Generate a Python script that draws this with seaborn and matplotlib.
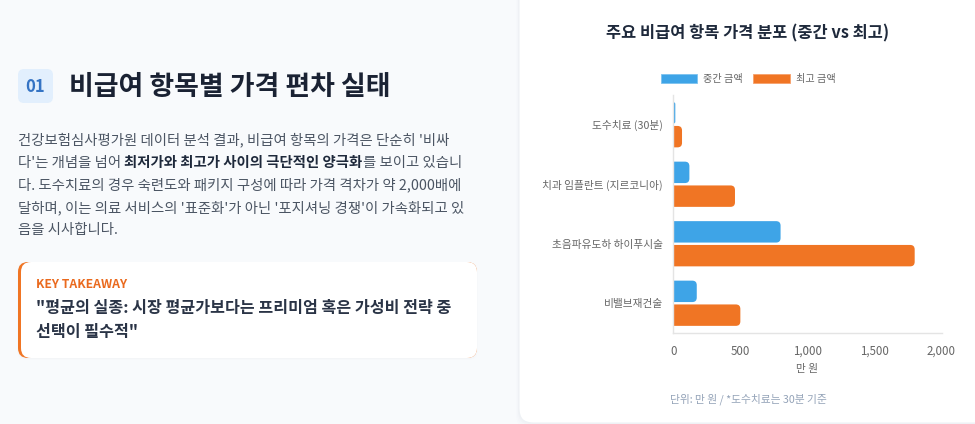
import matplotlib
matplotlib.use("Agg")
import matplotlib.pyplot as plt
from matplotlib.patches import FancyBboxPatch, Patch
import seaborn as sns
import pandas as pd

# ---------------- data ----------------
items = ["도수치료 (30분)", "치과 임플란트 (지르코니아)", "초음파유도하 하이푸시술", "비밸브재건술"]
median_price = [15, 120, 800, 175]
max_price = [65, 460, 1800, 500]
series_names = ["중간 금액", "최고 금액"]
x_ticks = [0, 500, 1000, 1500, 2000]

chart_title = "주요 비급여 항목 가격 분포 (중간 vs 최고)"
x_label = "만 원"
footnote = "단위: 만 원 / *도수치료는 30분 기준"

section_no = "01"
section_title = "비급여 항목별 가격 편차 실태"
para_lines = [
    [("건강보험심사평가원 데이터 분석 결과, 비급여 항목의 가격은 단순히 '비싸", False)],
    [("다'는 개념을 넘어 ", False), ("최저가와 최고가 사이의 극단적인 양극화", True), ("를 보이고 있습니", False)],
    [("다. 도수치료의 경우 숙련도와 패키지 구성에 따라 가격 격차가 약 2,000배에", False)],
    [("달하며, 이는 의료 서비스의 '표준화'가 아닌 '포지셔닝 경쟁'이 가속화되고 있", False)],
    [("음을 시사합니다.", False)],
]
takeaway_label = "KEY TAKEAWAY"
takeaway_lines = ["\"평균의 실종: 시장 평균가보다는 프리미엄 혹은 가성비 전략 중", "선택이 필수적\""]

BLUE = "#3ea4e7"
ORANGE = "#f07524"

sns.set_theme(style="white")
plt.rcParams["font.family"] = ["Noto Sans CJK KR", "DejaVu Sans"]

W, H = 975, 424
fig = plt.figure(figsize=(W / 100, H / 100), dpi=100)
fig.patch.set_facecolor("#f8fafc")

bg = fig.add_axes([0, 0, 1, 1], zorder=0)
bg.set_xlim(0, W)
bg.set_ylim(H, 0)
bg.axis("off")
bg.patch.set_alpha(0)

# ---------------- chart card ----------------
for i, a in enumerate([0.018, 0.012, 0.008]):
    bg.add_patch(FancyBboxPatch((519 - 1 - i, -14 + 1), 470 + 2 * i, 438 + 2 * i,
                                boxstyle="round,pad=0,rounding_size=14",
                                fc="#64748b", ec="none", alpha=a))
bg.add_patch(FancyBboxPatch((519, -14), 470, 437, boxstyle="round,pad=0,rounding_size=14",
                            fc="white", ec="#eef1f5", lw=0.8))

bg.text(748, 33, chart_title, ha="center", va="center", fontsize=11.8,
        fontweight="bold", color="#1e293b")
bg.text(748, 399, footnote, ha="center", va="center", fontsize=7.75, color="#94a3b8")

# ---------------- left panel ----------------
bg.add_patch(FancyBboxPatch((18, 69), 35, 34, boxstyle="round,pad=0,rounding_size=6",
                            fc="#e2effd", ec="none"))
bg.text(35.5, 87, section_no, ha="center", va="center", fontsize=12,
        fontweight="bold", color="#3574c4")
bg.text(69, 87, section_title, ha="left", va="center", fontsize=19.4,
        fontweight="bold", color="#1a2233")

renderer = fig.canvas.get_renderer()
line_y0, line_gap = 140, 22.5
for li, runs in enumerate(para_lines):
    x = 18
    y = line_y0 + li * line_gap
    for txt, bold in runs:
        t = bg.text(x, y, txt, ha="left", va="center", fontsize=10.35,
                    fontweight="bold" if bold else "normal",
                    color="#1e293b" if bold else "#4b5563")
        bb = t.get_window_extent(renderer=renderer)
        x += bb.width

# takeaway box
for i, a in enumerate([0.02, 0.012]):
    bg.add_patch(FancyBboxPatch((18 - i, 262 + 1 - i), 459 + 2 * i, 96 + 2 * i,
                                boxstyle="round,pad=0,rounding_size=10",
                                fc="#64748b", ec="none", alpha=a))
bg.add_patch(FancyBboxPatch((18, 262), 459, 96, boxstyle="round,pad=0,rounding_size=10",
                            fc=ORANGE, ec="none"))
bg.add_patch(FancyBboxPatch((21, 262), 456, 96, boxstyle="round,pad=0,rounding_size=10",
                            fc="white", ec="none"))
bg.text(36, 285, takeaway_label, ha="left", va="center", fontsize=8.8,
        fontweight="bold", color="#ea6a1e")
for i, ln in enumerate(takeaway_lines):
    bg.text(36, 308 + i * 23.5, ln, ha="left", va="center", fontsize=11.6,
            fontweight="semibold", color="#2a3446")

# ---------------- bar chart ----------------
L, R, T, B = 673.3, 941.5, 95, 333
ax = fig.add_axes([L / W, 1 - B / H, (R - L) / W, (B - T) / H], zorder=2)
ax.patch.set_alpha(0)

df = pd.DataFrame({
    "item": items * 2,
    "value": median_price + max_price,
    "series": [series_names[0]] * len(items) + [series_names[1]] * len(items),
})
sns.barplot(data=df, x="value", y="item", hue="series", orient="h",
            palette=[BLUE, ORANGE], width=0.8, gap=0.1, ax=ax, legend=False,
            saturation=1, errorbar=None)
ax.set_xlim(0, 2000)
ax.set_xticks(x_ticks)
ax.set_xticklabels([f"{v:,}" for v in x_ticks])

# rounded ends (Chart.js-like borderRadius, start side square)
px_per_x = (R - L) / 2000
px_per_y = (B - T) / 4
rad_px = 4.5
bars = list(ax.patches)
for p in bars:
    x0, y0 = p.get_x(), p.get_y()
    w, h = p.get_width(), p.get_height()
    col = p.get_facecolor()
    p.remove()
    r_x = min(rad_px / px_per_x, w)
    aspect = (rad_px / px_per_y) / (rad_px / px_per_x)
    ax.add_patch(FancyBboxPatch((x0 - r_x, y0), w + r_x, h,
                                boxstyle=f"round,pad=0,rounding_size={r_x}",
                                mutation_aspect=aspect, fc=col, ec="none",
                                clip_on=True))

for s in ["top", "right"]:
    ax.spines[s].set_visible(False)
for s in ["left", "bottom"]:
    ax.spines[s].set_color("#e4e4e4")
    ax.spines[s].set_linewidth(1)
ax.tick_params(axis="both", length=0)
ax.tick_params(axis="x", pad=8.5, labelsize=8.3, labelcolor="#666666")
ax.tick_params(axis="y", pad=7.5, labelsize=7.7, labelcolor="#666666")
ax.set_ylabel("")
ax.set_xlabel(x_label, fontsize=7.7, color="#666666", labelpad=4.5)
ax.grid(False)

handles = [Patch(fc=BLUE, ec="#7cc2ef", lw=0.6), Patch(fc=ORANGE, ec="#f6a06b", lw=0.6)]
ax.legend(handles, series_names, loc="center", bbox_to_anchor=((748 - L) / (R - L), (B - 79) / (B - T)),
          ncol=2, frameon=False, fontsize=7.3, handlelength=3.6, handleheight=1.0,
          handletextpad=0.6, columnspacing=1.0, labelcolor="#666666")

fig.savefig("out.png", dpi=100, facecolor=fig.get_facecolor())
